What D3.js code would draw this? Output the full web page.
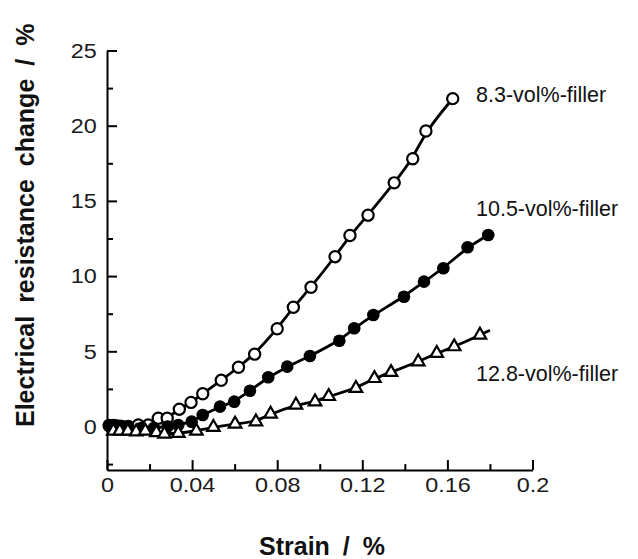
<!DOCTYPE html>
<html><head><meta charset="utf-8">
<script src="https://cdn.jsdelivr.net/npm/d3@7/dist/d3.min.js"></script>
<style>
html,body{margin:0;padding:0;background:#fff;}
svg{display:block;}
</style></head>
<body><div id="chart"></div>
<script>
// ---- data ----
const seriesNames = ["8.3-vol%-filler", "10.5-vol%-filler", "12.8-vol%-filler"];
const strainA = [0.001,0.004,0.007,0.010,0.0147,0.0194,0.0241,0.0283,0.034,0.0395,0.045,0.0537,0.0618,0.0694,0.080,0.0876,0.0959,0.1072,0.1142,0.1227,0.135,0.1437,0.1499,0.1625];
const resA    = [0.05,0.05,0.0,0.0,0.1,0.1,0.55,0.55,1.15,1.6,2.18,3.07,3.94,4.81,6.5,7.93,9.26,11.29,12.7,14.05,16.2,17.8,19.65,21.8];
const strainB = [0.001,0.003,0.006,0.010,0.016,0.022,0.0285,0.0335,0.0398,0.045,0.0531,0.0598,0.0672,0.0758,0.0847,0.0954,0.1092,0.1162,0.1252,0.1396,0.149,0.1581,0.1695,0.1792];
const resB    = [0.1,0.1,0.05,0.0,-0.1,-0.1,0.0,0.1,0.32,0.76,1.32,1.65,2.38,3.27,3.98,4.69,5.7,6.53,7.41,8.63,9.63,10.52,11.92,12.73];
const strainC = [0.003,0.006,0.0098,0.0137,0.018,0.0232,0.027,0.0335,0.042,0.05,0.0602,0.070,0.0769,0.0888,0.0978,0.1042,0.117,0.1257,0.1335,0.1463,0.155,0.1632,0.1753];
const resC    = [-0.3,-0.3,-0.3,-0.35,-0.3,-0.4,-0.5,-0.45,-0.3,-0.05,0.17,0.32,0.83,1.43,1.65,2.0,2.54,3.2,3.6,4.31,4.87,5.31,6.08];
const tailC   = [[0.18, 6.4]]; // fitted line continues slightly past last marker
const xMajorTicks = [0, 0.04, 0.08, 0.12, 0.16, 0.2];
const xTickLabels = ["0", "0.04", "0.08", "0.12", "0.16", "0.2"];
const xMinorTicks = [0.02, 0.06, 0.10, 0.14, 0.18];
const yMajorTicks = [0, 5, 10, 15, 20, 25];
const yMinorTicks = [-2.5, 2.5, 7.5, 12.5, 17.5, 22.5];
const xTitle = "Strain / %";
const yTitle = "Electrical resistance change / %";

// ---- layout ----
const W = 638, H = 559;
const svg = d3.select("#chart").append("svg").attr("width", W).attr("height", H);
const x = d3.scaleLinear().domain([0, 0.2]).range([107, 532.5]);
const y = d3.scaleLinear().domain([-2.9, 25]).range([470.1, 50.5]);
const FONT = "'Liberation Sans', Arial, Helvetica, sans-serif";

// axes
const gx = svg.append("g").attr("transform", `translate(0,${y(-2.9)})`)
  .call(d3.axisBottom(x).tickValues(xMajorTicks).tickFormat((d,i)=>xTickLabels[i])
        .tickSizeInner(-10).tickSizeOuter(0).tickPadding(22));
const gxm = svg.append("g").attr("transform", `translate(0,${y(-2.9)})`)
  .call(d3.axisBottom(x).tickValues(xMinorTicks).tickFormat("").tickSizeInner(-6).tickSizeOuter(0));
gxm.select(".domain").remove();
const gy = svg.append("g").attr("transform", `translate(${x(0)},0)`)
  .call(d3.axisLeft(y).tickValues(yMajorTicks).tickSizeInner(-10).tickSizeOuter(0).tickPadding(8.5));
const gym = svg.append("g").attr("transform", `translate(${x(0)},0)`)
  .call(d3.axisLeft(y).tickValues(yMinorTicks).tickFormat("").tickSizeInner(-6).tickSizeOuter(0));
gym.select(".domain").remove();
[gx, gxm, gy, gym].forEach(g => {
  g.selectAll("path,line").attr("stroke", "#000").attr("stroke-width", 2);
});
gx.selectAll(".tick text").attr("font-family", FONT).attr("font-size", 19.5).attr("fill", "#1a1a1a")
  .attr("x", 0).attr("dy", null).attr("y", 22).attr("transform", "scale(1.2,1)");
gy.selectAll(".tick text").attr("font-family", FONT).attr("font-size", 19.5).attr("fill", "#1a1a1a")
  .attr("dy", "0.35em").attr("transform", "scale(1.2,1)");

// lines
const line = d3.line().x(d => x(d[0])).y(d => y(d[1])).curve(d3.curveBasis);
const dA = strainA.map((s,i)=>[s,resA[i]]);
const dB = strainB.map((s,i)=>[s,resB[i]]);
const dC = strainC.map((s,i)=>[s,resC[i]]);
[dA, dB, dC.concat(tailC)].forEach(d => {
  svg.append("path").datum(d).attr("d", line).attr("fill", "none")
    .attr("stroke", "#000").attr("stroke-width", 2.8).attr("stroke-linejoin","round");
});

// markers
svg.append("g").selectAll("circle").data(dA).join("circle")
  .attr("cx", d=>x(d[0])).attr("cy", d=>y(d[1])).attr("r", 5.6)
  .attr("fill", "#fff").attr("stroke", "#000").attr("stroke-width", 2.2);
svg.append("g").selectAll("circle").data(dB).join("circle")
  .attr("cx", d=>x(d[0])).attr("cy", d=>y(d[1])).attr("r", 6.3)
  .attr("fill", "#000");
const tri = d3.symbol().type(d3.symbolTriangle).size(68);
svg.append("g").selectAll("path").data(dC).join("path")
  .attr("d", tri).attr("transform", d=>`translate(${x(d[0])},${y(d[1])})`)
  .attr("fill", "#fff").attr("stroke", "#000").attr("stroke-width", 2.2);

// series labels
const labelPos = [[476, 102], [476, 216], [476, 381]];
seriesNames.forEach((n,i)=>{
  svg.append("text").attr("x", labelPos[i][0]).attr("y", labelPos[i][1])
    .attr("font-family", FONT).attr("font-size", 21.5).attr("fill", "#111").text(n);
});

// axis titles
svg.append("text").attr("x", 322).attr("y", 555).attr("text-anchor", "middle")
  .attr("font-family", FONT).attr("font-weight", "bold").attr("font-size", 25)
  .attr("word-spacing", 6).attr("fill", "#111").text(xTitle);
svg.append("text").attr("transform", "translate(34,427) rotate(-90)")
  .attr("text-anchor", "start")
  .attr("font-family", FONT).attr("font-weight", "bold").attr("font-size", 25)
  .attr("word-spacing", 6).attr("fill", "#111").text(yTitle);
</script>
</body></html>
